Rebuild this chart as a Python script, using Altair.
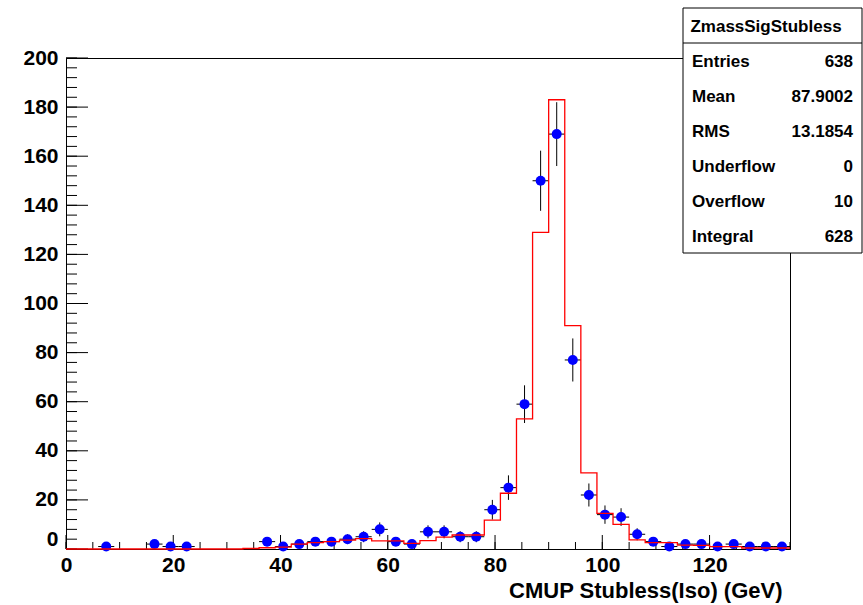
import altair as alt
import pandas as pd
import numpy as np

# ---- data ----
centers = [7.5, 16.5, 19.5, 22.5, 37.5, 40.5, 43.5, 46.5, 49.5, 52.5, 55.5, 58.5,
           61.5, 64.5, 67.5, 70.5, 73.5, 76.5, 79.5, 82.5, 85.5, 88.5, 91.5, 94.5,
           97.5, 100.5, 103.5, 106.5, 109.5, 112.5, 115.5, 118.5, 121.5, 124.5,
           127.5, 130.5, 133.5]
counts = [1, 2, 1, 1, 3, 1, 2, 3, 3, 4, 5, 8,
          3, 2, 7, 7, 5, 5, 16, 25, 59, 150, 169, 77,
          22, 14, 13, 6, 3, 1, 2, 2, 1, 2,
          1, 1, 1]
bin_width = 3
mc_values = [0] * 11 + [0.2, 0.5, 0.8, 2.0, 2.6, 3.0, 3.6, 4.2, 3.3, 3.3,
                        2.3, 3.4, 4.8, 5.7, 5.7, 11.8, 22.7, 53, 129, 183,
                        91, 31, 14.5, 10, 3.7, 2.6, 2.6, 1.6, 1.5, 1.0,
                        1.0, 0.4, 0.4, 0.4]
x_major = [0, 20, 40, 60, 80, 100, 120]
x_minor = list(range(0, 136, 5))
y_major = list(range(0, 201, 20))
y_minor = list(range(0, 201, 4))
x_title = "CMUP Stubless(Iso) (GeV)"
stat_title = "ZmassSigStubless"
stat_labels = ["Entries", "Mean", "RMS", "Underflow", "Overflow", "Integral"]
stat_values = ["638", "87.9002", "13.1854", "0", "10", "628"]

FONT = "Liberation Sans"
W, H = 724, 491

xs = alt.Scale(domain=[0, 135], nice=False, zero=False)
ys = alt.Scale(domain=[0, 200], nice=False)

pts = pd.DataFrame({"x": centers, "n": counts})
pts["err"] = np.sqrt(pts["n"])
pts["lo"] = pts["n"] - pts["err"]
pts["hi"] = pts["n"] + pts["err"]
pts["xl"] = pts["x"] - bin_width / 2
pts["xr"] = pts["x"] + bin_width / 2

edges = [i * bin_width for i in range(len(mc_values))] + [len(mc_values) * bin_width]
mc = pd.DataFrame({"x": edges, "y": mc_values + [mc_values[-1]]})

x_axis = alt.Axis(values=x_major, tickSize=0, labelFont=FONT, labelFontWeight="bold",
                  labelFontSize=21, labelPadding=5, labelFlush=False, labelColor="black",
                  domainColor="black", domainWidth=1, grid=False, title=x_title,
                  titleFont=FONT, titleFontSize=22, titleFontWeight="bold", titleColor="black",
                  titleX=716, titleY=48, titleAlign="right", titleBaseline="alphabetic",
                  format="d")
y_axis = alt.Axis(values=y_major, tickSize=0, labelFont=FONT, labelFontWeight="bold",
                  labelFontSize=21, labelPadding=8, labelColor="black",
                  labelBaseline={"expr": "datum.value === 0 ? 'bottom' : 'middle'"},
                  domainColor="black", domainWidth=1, grid=False, title="", format="d")


def X(field):
    return alt.X(field, scale=xs, axis=x_axis, title=x_title)


def Y(field):
    return alt.Y(field, scale=ys, axis=y_axis, title="")


hist = alt.Chart(mc).mark_line(interpolate="step-after", color="#ff0000", strokeWidth=1.3).encode(
    x=X("x:Q"), y=Y("y:Q"))

vbars = alt.Chart(pts).mark_rule(color="black", strokeWidth=1).encode(
    x=X("x:Q"), y=Y("lo:Q"), y2="hi:Q")
hbars = alt.Chart(pts).mark_rule(color="black", strokeWidth=1).encode(
    x=X("xl:Q"), x2="xr:Q", y=Y("n:Q"))
dots = alt.Chart(pts).mark_point(filled=True, shape="circle", size=100, color="#0000ff", opacity=1).encode(
    x=X("x:Q"), y=Y("n:Q"))

ymaj = alt.Chart(pd.DataFrame({"v": y_major})).mark_rule(color="black").encode(
    y=Y("v:Q"), x=alt.value(0), x2=alt.value(22))
ymin = alt.Chart(pd.DataFrame({"v": y_minor})).mark_rule(color="black").encode(
    y=Y("v:Q"), x=alt.value(0), x2=alt.value(11))
xmaj = alt.Chart(pd.DataFrame({"v": x_major})).mark_rule(color="black").encode(
    x=X("v:Q"), y=alt.value(H), y2=alt.value(H - 14))
xmin = alt.Chart(pd.DataFrame({"v": x_minor})).mark_rule(color="black").encode(
    x=X("v:Q"), y=alt.value(H), y2=alt.value(H - 7))

# stats box
bx0, bx1, by0, by1 = 617, 796, -50, 195
box = alt.Chart(pd.DataFrame({"a": [0]})).mark_rect(fill="white", stroke="black", strokeWidth=1).encode(
    x=alt.value(bx0), x2=alt.value(bx1), y=alt.value(by0), y2=alt.value(by1))
divider = alt.Chart(pd.DataFrame({"a": [0]})).mark_rule(color="black", strokeWidth=1).encode(
    x=alt.value(bx0), x2=alt.value(bx1), y=alt.value(-15))
title_t = alt.Chart(pd.DataFrame({"a": [0]})).mark_text(
    font=FONT, fontWeight="bold", fontSize=17, color="black", align="center", baseline="middle"
).encode(x=alt.value(700), y=alt.value(-31), text=alt.value(stat_title))

stat_layers = []
for i, (lab, val) in enumerate(zip(stat_labels, stat_values)):
    yy = 3.7 + 35 * i
    stat_layers.append(alt.Chart(pd.DataFrame({"a": [0]})).mark_text(
        font=FONT, fontWeight="bold", fontSize=17, color="black", align="left", baseline="middle"
    ).encode(x=alt.value(626), y=alt.value(yy), text=alt.value(lab)))
    stat_layers.append(alt.Chart(pd.DataFrame({"a": [0]})).mark_text(
        font=FONT, fontWeight="bold", fontSize=17, color="black", align="right", baseline="middle"
    ).encode(x=alt.value(787), y=alt.value(yy), text=alt.value(val)))

chart = alt.layer(
    ymin, ymaj, xmin, xmaj, vbars, hbars, dots, hist,
    box, divider, title_t, *stat_layers
).properties(
    width=W, height=H,
    padding={"left": 66, "top": 58, "right": 73, "bottom": 56},
    autosize=alt.AutoSizeParams(type="none"),
    background="white",
).configure_view(stroke="black", strokeWidth=1)

chart.save("out.html", embed_options={"renderer": "svg", "actions": False})
